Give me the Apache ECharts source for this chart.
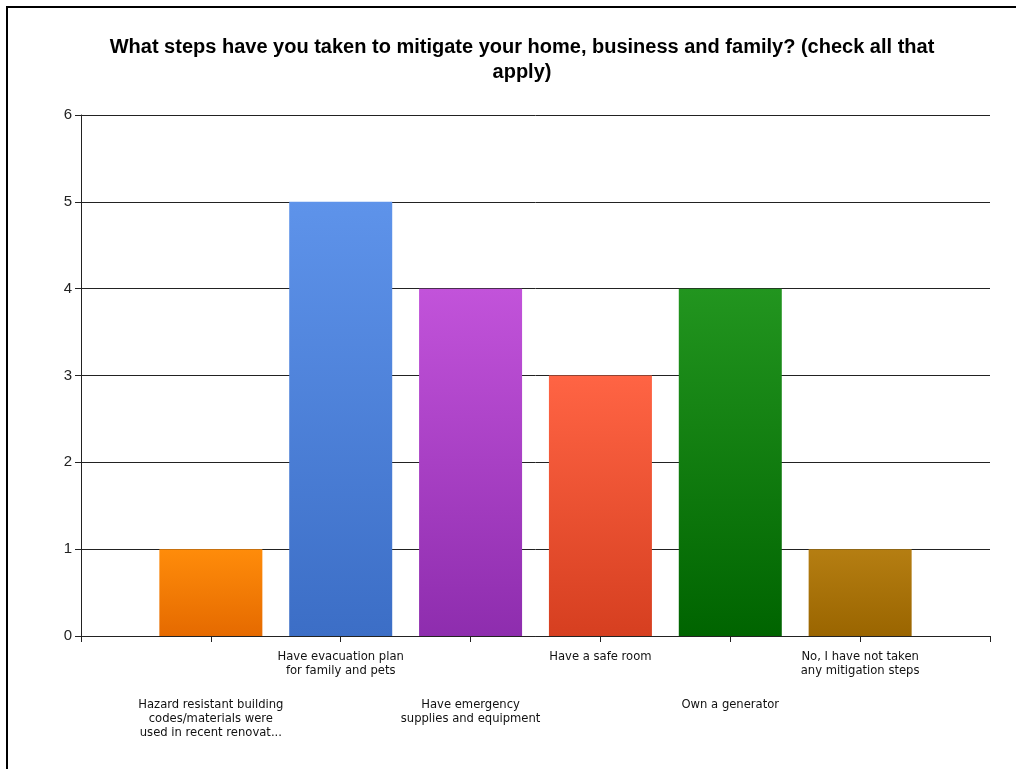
<!DOCTYPE html>
<html>
<head>
<meta charset="utf-8">
<script src="https://cdn.jsdelivr.net/npm/echarts@6/dist/echarts.min.js"></script>
<style>html,body{margin:0;padding:0;background:#fff;}#c{width:1016px;height:769px;}</style>
</head>
<body>
<div id="c"></div>
<script>
const titleText = 'What steps have you taken to mitigate your home, business and family? (check all that\napply)';
const categories = [
  'Hazard resistant building\ncodes/materials were\nused in recent renovat...',
  'Have evacuation plan\nfor family and pets',
  'Have emergency\nsupplies and equipment',
  'Have a safe room',
  'Own a generator',
  'No, I have not taken\nany mitigation steps'
];
const values = [1, 5, 4, 3, 4, 1];
const colorsTop = ['#ff8c0a', '#5e93ea', '#c253da', '#ff6444', '#22951f', '#b57e12'];
const colorsBottom = ['#e56a00', '#3c6ec6', '#8e2dae', '#d63f20', '#006400', '#9a6500'];
const yTicks = [0, 1, 2, 3, 4, 5, 6];

const chart = echarts.init(document.getElementById('c'), null, {renderer: 'canvas'});

const data = values.map((v, i) => ({
  value: [i + 1, v],
  itemStyle: {
    color: new echarts.graphic.LinearGradient(0, 0, 0, 1, [
      {offset: 0, color: colorsTop[i]},
      {offset: 1, color: colorsBottom[i]}
    ])
  }
}));

const labelFont = {fontFamily: 'DejaVu Sans', fontSize: 11.6, color: '#111', lineHeight: 14};

chart.setOption({
  animation: false,
  backgroundColor: '#fff',
  title: {
    text: titleText,
    left: 517,
    textAlign: 'center',
    top: 30,
    textStyle: {fontFamily: 'Liberation Sans', fontWeight: 'bold', fontSize: 20, color: '#000', lineHeight: 25}
  },
  grid: {left: 81, right: 26, top: 115, bottom: 133, containLabel: false},
  xAxis: [{
    type: 'value', min: 0, max: 7, interval: 1, position: 'bottom', offset: 0,
    axisLine: {show: true, lineStyle: {color: '#222', width: 1}},
    axisTick: {show: true, length: 6, lineStyle: {color: '#222'}},
    splitLine: {show: false},
    axisLabel: Object.assign({
      margin: 14, showMinLabel: true, showMaxLabel: true,
      formatter: v => (v >= 1 && v <= 6 && v % 2 === 0) ? categories[v - 1] : ''
    }, labelFont)
  }, {
    type: 'value', min: 0, max: 7, interval: 1, position: 'bottom', offset: 0,
    axisLine: {show: false}, axisTick: {show: false}, splitLine: {show: false},
    axisLabel: Object.assign({
      margin: 62,
      formatter: v => (v >= 1 && v <= 6 && v % 2 === 1) ? categories[v - 1] : ''
    }, labelFont)
  }],
  yAxis: {
    type: 'value', min: 0, max: 6, interval: 1,
    axisLine: {show: true, lineStyle: {color: '#222', width: 1}},
    axisTick: {show: true, length: 6, lineStyle: {color: '#222'}},
    splitLine: {show: true, lineStyle: {color: '#222', width: 1}},
    axisLabel: {
      margin: 9, fontFamily: 'Liberation Sans', fontSize: 15, color: '#222',
      formatter: v => yTicks.includes(v) ? String(v) : ''
    }
  },
  series: [{
    type: 'bar',
    xAxisIndex: 0,
    barWidth: 103,
    data: data
  }],
  graphic: [{
    type: 'rect',
    shape: {x: 7, y: 7, width: 1030, height: 790},
    style: {fill: 'none', stroke: '#000', lineWidth: 2},
    silent: true, z: 100
  }]
});
</script>
</body>
</html>
